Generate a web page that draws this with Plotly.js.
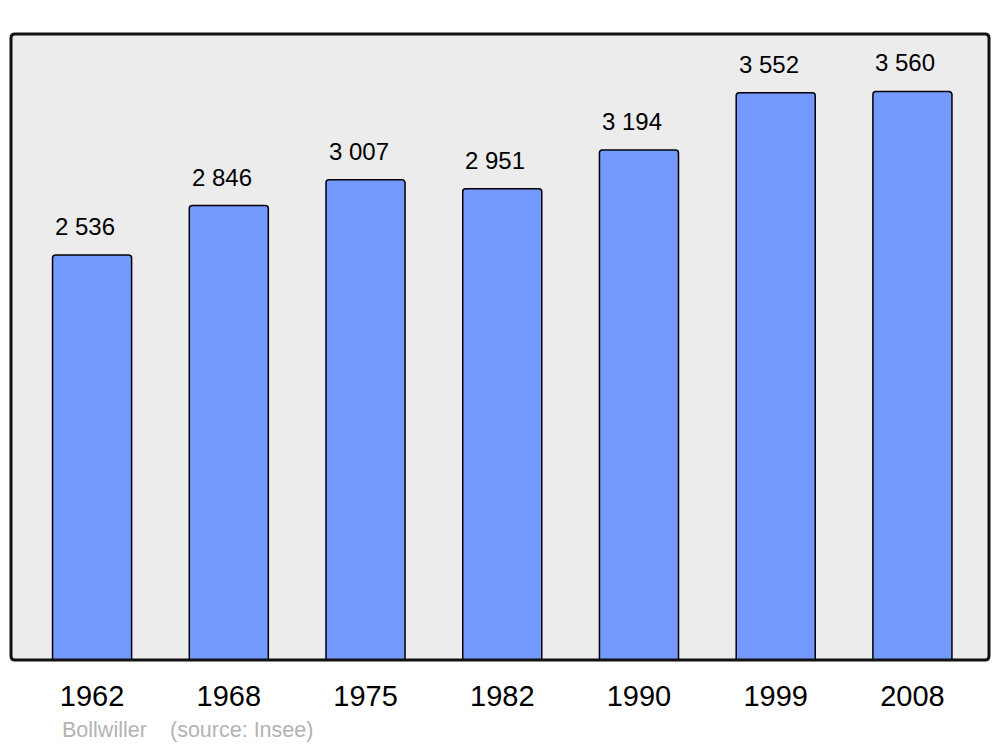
<!DOCTYPE html>
<html>
<head>
<meta charset="utf-8">
<script src="https://cdn.plot.ly/plotly-3.0.1.min.js"></script>
<style>html,body{margin:0;padding:0;background:#fff;}#chart{width:1000px;height:747px;}</style>
</head>
<body>
<div id="chart"></div>
<script>
const years = ["1962", "1968", "1975", "1982", "1990", "1999", "2008"];
const population = [2536, 2846, 3007, 2951, 3194, 3552, 3560];
const valueLabels = ["2 536", "2 846", "3 007", "2 951", "3 194", "3 552", "3 560"];
const placeName = "Bollwiller";
const sourceText = "(source: Insee)";

const FONT = "Liberation Sans, Arial, sans-serif";
const xs = years.map((_, i) => i);

const W = 978, H = 626, R = 4;
const rx = R / W, ry = R / H;
const roundRect = `M ${rx},0 L ${1-rx},0 Q 1,0 1,${ry} L 1,${1-ry} Q 1,1 ${1-rx},1 L ${rx},1 Q 0,1 0,${1-ry} L 0,${ry} Q 0,0 ${rx},0 Z`;

const annotations = xs.map((x, i) => ({
  x: x, y: population[i], xref: 'x', yref: 'y',
  text: valueLabels[i], showarrow: false,
  yanchor: 'bottom', yshift: 13, xshift: -7,
  font: {family: FONT, size: 24, color: '#000'}
}));
annotations.push({
  xref: 'paper', yref: 'paper', x: (60 - 11) / W, y: 0, xanchor: 'left', yanchor: 'middle',
  yshift: -70, text: placeName, showarrow: false,
  font: {family: FONT, size: 21.5, color: '#b3b3b3'}
});
annotations.push({
  xref: 'paper', yref: 'paper', x: (168 - 11) / W, y: 0, xanchor: 'left', yanchor: 'middle',
  yshift: -70, text: sourceText, showarrow: false,
  font: {family: FONT, size: 21.5, color: '#b3b3b3'}
});

Plotly.newPlot('chart', [{
  type: 'bar',
  x: xs,
  y: population,
  width: 0.578,
  marker: {color: '#7499ff', line: {color: '#000', width: 1.5}, cornerradius: 3},
  hoverinfo: 'none'
}], {
  width: 1000, height: 747,
  margin: {l: 11, r: 11, t: 34, b: 87, pad: 0},
  paper_bgcolor: '#ffffff',
  plot_bgcolor: 'rgba(0,0,0,0)',
  showlegend: false,
  xaxis: {
    range: [-0.593, 6.56],
    tickvals: xs, ticktext: years,
    showgrid: false, zeroline: false, showline: false,
    ticks: '', ticklabelstandoff: 16,
    tickfont: {family: FONT, size: 29, color: '#000'},
    fixedrange: true
  },
  yaxis: {
    range: [0, 3920],
    showgrid: false, zeroline: false, showline: false,
    showticklabels: false, ticks: '',
    fixedrange: true
  },
  shapes: [
    {type: 'path', xref: 'paper', yref: 'paper', path: roundRect,
     fillcolor: '#ececec', line: {width: 0}, layer: 'below'},
    {type: 'path', xref: 'paper', yref: 'paper', path: roundRect,
     fillcolor: 'rgba(0,0,0,0)', line: {color: '#111', width: 3}, layer: 'above'}
  ],
  annotations: annotations
}, {displayModeBar: false, staticPlot: true});
</script>
</body>
</html>
